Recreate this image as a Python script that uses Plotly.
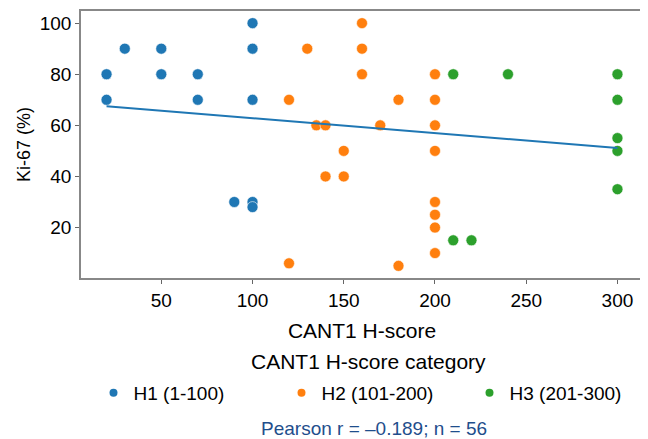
import plotly.graph_objects as go

# H1 (1-100)
h1_x = [20, 20, 30, 50, 50, 70, 70, 100, 100, 100, 90, 100, 100]
h1_y = [80, 70, 90, 90, 80, 80, 70, 100, 90, 70, 30, 30, 28]
# H2 (101-200)
h2_x = [160, 130, 160, 160, 200, 120, 180, 200, 135, 140, 170, 200, 150, 200, 140, 150, 200, 200, 200, 200, 120, 180]
h2_y = [100, 90, 90, 80, 80, 70, 70, 70, 60, 60, 60, 60, 50, 50, 40, 40, 30, 25, 20, 10, 6, 5]
# H3 (201-300)
h3_x = [210, 240, 300, 300, 300, 300, 300, 210, 220]
h3_y = [80, 80, 80, 70, 55, 50, 35, 15, 15]
# regression line endpoints
fit_x = [20, 300]
fit_y = [67.5, 51.1]

x_ticks = [50, 100, 150, 200, 250, 300]
y_ticks = [20, 40, 60, 80, 100]

groups = ["H1 (1-100)", "H2 (101-200)", "H3 (201-300)"]
colors = ["#1f77b4", "#ff7f0e", "#2ca02c"]

font = "Liberation Sans, Arial, sans-serif"
FS = 19

# the page body has an 8px margin, so the figure is 8px smaller than the window
W, H = 640, 431
L, T, R, B = 73, 3, 5, 161
PH = H - T - B


def py(y):
    """figure-pixel y -> paper y"""
    return (H - B - y) / PH


def px(x):
    return (x - L) / (W - L - R)


fig = go.Figure()
for name, xs, ys, c in zip(groups, [h1_x, h2_x, h3_x], [h1_y, h2_y, h3_y], colors):
    fig.add_trace(go.Scatter(x=xs, y=ys, mode="markers", name=name, showlegend=False,
                             legendgroup=name,
                             marker=dict(color=c, size=11, line=dict(color="white", width=0.6))))
fig.add_trace(go.Scatter(x=fit_x, y=fit_y, mode="lines", showlegend=False,
                         line=dict(color=colors[0], width=2)))
for name, c in zip(groups, colors):
    fig.add_trace(go.Scatter(x=[None], y=[None], mode="markers", name=name, legendgroup=name,
                             marker=dict(color=c, size=8)))

axis_common = dict(showgrid=False, zeroline=False, showline=True, mirror=True,
                   linecolor="#888888", linewidth=1.5, ticks="outside", ticklen=4,
                   tickcolor="#666666", tickwidth=1, automargin=False,
                   tickfont=dict(family=font, size=FS, color="black"))

fig.update_layout(
    width=W, height=H,
    margin=dict(l=L, r=R, t=T, b=B),
    plot_bgcolor="white", paper_bgcolor="white",
    font=dict(family=font, size=FS, color="black"),
    xaxis=dict(range=[6, 314], tickvals=x_ticks,
               title=dict(text="CANT1 H-score", font=dict(size=21), standoff=14),
               **axis_common),
    yaxis=dict(range=[0.25, 104.75], tickvals=y_ticks,
               title=dict(text="Ki-67 (%)", font=dict(size=18), standoff=4),
               **axis_common),
    legend=dict(orientation="h", xref="container", yref="container",
                x=85.5 / W, xanchor="left", y=1 - 385 / H, yanchor="middle",
                font=dict(size=FS), entrywidth=143, traceorder="normal"),
    annotations=[
        dict(text="CANT1 H-score category", xref="paper", yref="paper",
             x=px(360), y=py(353), xanchor="center", yanchor="middle",
             showarrow=False, font=dict(family=font, size=21, color="black")),
        dict(text="Pearson r = \u20130.189; n = 56", xref="paper", yref="paper",
             x=px(366), y=py(420), xanchor="center", yanchor="middle",
             showarrow=False, font=dict(family=font, size=FS, color="#1f4e8c")),
    ],
)

fig.write_html("out.html")
